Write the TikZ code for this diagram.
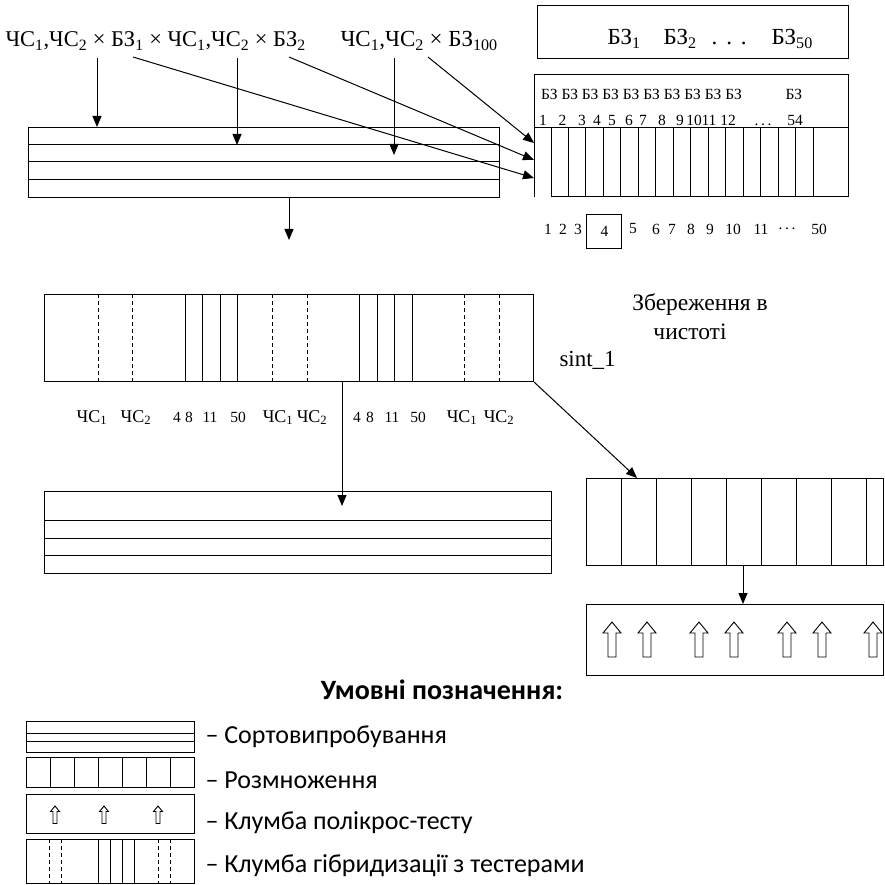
\documentclass[tikz,border=0pt]{standalone}
\usepackage{fontspec}
\setmainfont{Liberation Serif}
\newfontfamily\legfont{Carlito}
\usetikzlibrary{arrows.meta}
\newcommand\sbs[1]{\textsubscript{#1}}
\newcommand\fs[1]{\fontsize{#1}{#1}\selectfont}
\begin{document}
\begin{tikzpicture}[x=1pt,y=-1pt,line width=1pt,
  arr/.style={-{Triangle[width=9pt,length=11pt]}},
  frame/.style={draw,anchor=north west,inner sep=0pt},
  big/.style={font=\fs{23},inner sep=0pt},
  small/.style={font=\fs{15.5},inner sep=0pt},
  mid/.style={font=\fs{18},inner sep=0pt},
  leg/.style={font=\legfont\fs{26},inner sep=0pt,anchor=west},
  dsh/.style={dash pattern=on 4pt off 3pt},
  uparr/.pic={\draw[line width=0.9pt,fill=white] (0,0) -- (9,11) -- (4,11) -- (4,35) -- (-4,35) -- (-4,11) -- (-9,11) -- cycle;}]
\useasboundingbox (0,0) rectangle (885,885);

% ---------- top texts ----------
\node[big,font=\fs{22.5},anchor=base west] (t1) at (5,47) {ЧС\sbs1,ЧС\sbs2 × БЗ\sbs1 × ЧС\sbs1,ЧС\sbs2 × БЗ\sbs2};
\node[big,anchor=base west] (t2) at (340,47) {ЧС\sbs1,ЧС\sbs2 × БЗ\sbs{100}};

% ---------- box of BZ ----------
\node[frame,minimum width=311pt,minimum height=53pt] (bz) at (537,5) {};
\node[big,anchor=base west] (bz1) at (607,45) {БЗ\sbs1};
\node[big,anchor=base west] (bz2) at (663,45) {БЗ\sbs2};
\node[big,anchor=base west] (bzd) at (711,45) {.\hspace{9pt}.\hspace{9pt}.};
\node[big,anchor=base west] (bz50) at (771,45) {БЗ\sbs{50}};

% ---------- propagation table ----------
\node[anchor=north west,minimum width=314pt,minimum height=122pt,inner sep=0pt] (tab) at (534,75) {};
\draw (534,197) -- (534,75) -- (848,75) -- (848,197) -- (551,197) -- (551,128);
\draw (534,128) -- (848,128);
\foreach \i in {1,...,15} {\draw ({551+\i*17.49},128) -- ({551+\i*17.49},197);}
\foreach \x/\n in {540.5/a,561/b,581.3/c,601.8/d,622.3/e,642.8/f,663.3/g,683.8/h,704.3/i,724.8/j,785/k}
  {\node[small,anchor=base west] (bzl\n) at (\x,100) {БЗ};}
\foreach \x/\t/\n in {543/1/a,562.5/2/b,582/3/c,597/4/d,612/5/e,629/6/f,643/7/g,662/8/h,680/9/i,694/10/j,709/11/k,728/12/l,763/{.\,.\,.}/m,795/54/n}
  {\node[small,anchor=base] (nm\n) at (\x,126) {\t};}

% numbers under the table
\foreach \x/\t/\n in {548/1/a,563/2/b,578/3/c,633/5/e,656/6/f,672/7/g,691/8/h,710/9/i,733/10/j,761/11/k,787/{.\,.\,.}/m,819/50/n}
  {\node[small] (bn\n) at (\x,229) {\t};}
\node[draw,small,minimum width=35pt,minimum height=33pt] (bnd) at (603.5,231.5) {\hspace{2pt}4};

% ---------- variety trial box ----------
\node[frame,minimum width=471pt,minimum height=70pt] (sv) at (28,127) {};
\draw (28,145) -- (499,145) (28,162) -- (499,162) (28,180) -- (499,180);

\coordinate (s1) at (97,58);
\coordinate (s2) at (237,58);
\coordinate (s3) at (394,58);
\coordinate (e2) at (237,145);
\coordinate (e3) at (394,155);
\draw[arr] (s1) -- (s1 |- sv.north);
\draw[arr] (s2) -- (e2);
\draw[arr] (s3) -- (e3);

\coordinate (d1) at (133,57);
\coordinate (d2) at (289,57);
\coordinate (d3) at (428,57);
\coordinate (in1) at (534,143);
\coordinate (in2) at (534,160);
\coordinate (in3) at (534,178);
\draw[arr] (d3) -- (in1);
\draw[arr] (d2) -- (in2);
\draw[arr] (d1) -- (in3);

\coordinate (sve) at (289,240);
\draw[arr] (sv.south -| sve) -- (sve);

% ---------- hybridisation box ----------
\node[frame,minimum width=489pt,minimum height=87pt] (hb) at (44,294) {};
\foreach \x in {98,132,272,307,464,499} {\draw[dsh] (\x,294) -- (\x,381);}
\foreach \x in {185,202,220,237,359,377,394,412} {\draw (\x,294) -- (\x,381);}
\foreach \x/\t/\n in {92/ЧС\sbs1/a,136/ЧС\sbs2/b,278/ЧС\sbs1/c,312/ЧС\sbs2/d,462/ЧС\sbs1/e,499/ЧС\sbs2/f}
  {\node[mid,anchor=base] (hl\n) at (\x,422) {\t};}
\foreach \x/\t/\n in {177/4/a,189/8/b,210/11/c,238/50/d,357/4/e,370/8/f,392/11/g,418/50/h}
  {\node[mid,font=\fs{15.5},anchor=base] (hn\n) at (\x,422) {\t};}

\node[big,font=\fs{23.5}] (zb) at (700,305) {Збереження в};
\node[big,font=\fs{23.5}] (ch) at (690,332) {чистоті};
\node[big,anchor=west] (si) at (559,360) {sint\_1};

% ---------- lower left trial box ----------
\node[frame,minimum width=507pt,minimum height=82pt] (sv2) at (44,491) {};
\draw (44,520) -- (551,520) (44,538) -- (551,538) (44,555) -- (551,555);
\coordinate (h1) at (342,381);
\coordinate (h2) at (342,506);
\draw[arr] (h1) -- (h2);

% ---------- right propagation box ----------
\node[frame,minimum width=297pt,minimum height=87pt] (rb) at (586,478) {};
\foreach \i in {0,...,7} {\draw ({621+35*\i},478) -- ({621+35*\i},565);}
\coordinate (rt) at (637,478);
\draw[arr] (hb.south east) -- (rt);

% ---------- polycross box ----------
\node[frame,minimum width=297pt,minimum height=71pt] (pc) at (586,604) {};
\draw[arr] (rb.south -| 743,0) -- (pc.north -| 743,0);
\begin{scope}
\clip (586,604) rectangle (883,675);
\foreach \x in {612,647,699,734,787,822,873} {\pic at (\x,622) {uparr};}
\end{scope}
\draw (883,604) -- (883,675);

% ---------- legend ----------
\node[font=\legfont\bfseries\fs{28},inner sep=0pt] (lt) at (442,690) {Умовні позначення:};

\node[frame,minimum width=168pt,minimum height=31pt] (l1) at (26,721) {};
\draw (26,733) -- (194,733) (26,741) -- (194,741);
\node[leg] (l1t) at (205,737) {– Сортовипробування};

\node[frame,minimum width=168pt,minimum height=30pt] (l2) at (26,757) {};
\foreach \x in {50,74,98,122,146,170} {\draw (\x,757) -- (\x,787);}
\node[leg] (l2t) at (205,780) {– Розмноження};

\node[frame,minimum width=168pt,minimum height=39pt] (l3) at (26,794) {};
\foreach \x in {55,104,158} {\pic[scale=0.5] at (\x,806) {uparr};}
\node[leg] (l3t) at (205,823) {– Клумба полікрос-тесту};

\node[frame,minimum width=168pt,minimum height=44pt] (l4) at (26,839) {};
\foreach \x in {49,61,158,170} {\draw[dsh,line width=0.8pt] (\x,839) -- (\x,883);}
\foreach \x in {98,110,122,134} {\draw (\x,839) -- (\x,883);}
\node[leg] (l4t) at (205,866) {– Клумба гібридизації з тестерами};
\end{tikzpicture}
\end{document}
